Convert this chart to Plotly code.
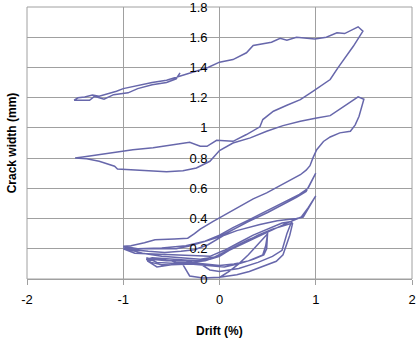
import plotly.graph_objects as go

# ---- data (drift %, crack width mm), traced in time order ----
small_drift = [0.0, 0.1, 0.2, 0.3, 0.4, 0.5,
               0.48, 0.45, 0.3, 0.15, 0.0, -0.15, -0.3, -0.45, -0.6, -0.71, -0.76,
               -0.7, -0.55, -0.4, -0.25, -0.1, 0.0, 0.15, 0.3, 0.5,
               0.49, 0.46, 0.35, 0.2, 0.05, -0.1, -0.3, -0.5, -0.65, -0.75,
               -0.65, -0.5, -0.38, -0.31, -0.17, 0.0, 0.18, 0.31, 0.45, 0.59, 0.66, 0.73, 0.76,
               0.7, 0.55, 0.4, 0.25, 0.1, 0.0, -0.15, -0.3, -0.5, -0.65, -0.76,
               -0.7, -0.55, -0.35, -0.2, -0.1, 0.0, 0.2, 0.4, 0.55, 0.65, 0.7, 0.75]
small_crack = [0.01, 0.05, 0.10, 0.16, 0.23, 0.30,
               0.22, 0.16, 0.12, 0.10, 0.09, 0.10, 0.11, 0.11, 0.095, 0.11, 0.13,
               0.14, 0.135, 0.125, 0.12, 0.13, 0.16, 0.21, 0.26, 0.31,
               0.20, 0.16, 0.13, 0.10, 0.08, 0.09, 0.10, 0.095, 0.08, 0.12,
               0.13, 0.12, 0.095, 0.02, 0.007, 0.011, 0.028, 0.05, 0.083, 0.117, 0.16, 0.29, 0.37,
               0.36, 0.33, 0.29, 0.24, 0.19, 0.15, 0.12, 0.11, 0.105, 0.11, 0.14,
               0.13, 0.12, 0.12, 0.10, 0.06, 0.05, 0.07, 0.11, 0.15, 0.19, 0.30, 0.38]

one_drift = [0.65, 0.5, 0.35, 0.2, 0.05, -0.1, -0.3, -0.57, -0.88, -1.0,
             -0.88, -0.74, -0.57, -0.4, -0.26, -0.12, 0.05, 0.18, 0.42, 0.6, 0.8, 0.87, 1.0,
             0.92, 0.85, 0.7, 0.5, 0.3, 0.1, 0.0, -0.2, -0.4, -0.6, -0.8, -1.0,
             -0.9, -0.7, -0.45, -0.3, -0.15, 0.0, 0.14, 0.3, 0.49, 0.65, 0.83, 0.92, 1.0,
             0.9, 0.8, 0.65, 0.5, 0.3, 0.15, 0.0, -0.15, -0.35, -0.6, -0.85, -1.0]
one_crack = [0.37, 0.33, 0.29, 0.24, 0.19, 0.15, 0.155, 0.16, 0.17, 0.20,
             0.19, 0.183, 0.176, 0.183, 0.194, 0.227, 0.29, 0.32, 0.36, 0.385, 0.40, 0.41, 0.55,
             0.47, 0.41, 0.37, 0.31, 0.25, 0.19, 0.15, 0.13, 0.14, 0.15, 0.17, 0.205,
             0.20, 0.20, 0.20, 0.22, 0.25, 0.29, 0.34, 0.39, 0.45, 0.50, 0.56, 0.60, 0.70,
             0.58, 0.54, 0.49, 0.44, 0.38, 0.33, 0.28, 0.25, 0.22, 0.205, 0.20, 0.216]

load15_drift = [-0.92, -0.78, -0.67, -0.47, -0.33, -0.26, -0.2, -0.07, 0.0, 0.14, 0.35, 0.49,
                0.63, 0.73, 0.84, 0.9, 0.94, 0.97, 1.01, 1.08, 1.15, 1.25, 1.36, 1.41, 1.45, 1.5]
load15_crack = [0.22, 0.24, 0.26, 0.265, 0.27, 0.30, 0.33, 0.38, 0.405, 0.46, 0.53, 0.57,
                0.62, 0.655, 0.69, 0.72, 0.75, 0.80, 0.856, 0.91, 0.94, 0.967, 0.978, 1.02, 1.077, 1.19]

unload15_drift = [1.44, 1.32, 1.22, 1.15, 1.01, 0.84, 0.66, 0.49, 0.32, 0.14, 0.0, -0.1, -0.24,
                  -0.38, -0.55, -0.76, -0.97, -1.06, -1.09, -1.14, -1.25, -1.38, -1.45, -1.5]
unload15_crack = [1.205, 1.154, 1.11, 1.081, 1.066, 1.044, 1.015, 0.978, 0.934, 0.90, 0.85, 0.779, 0.735,
                  0.717, 0.709, 0.717, 0.724, 0.728, 0.746, 0.757, 0.779, 0.795, 0.80, 0.80]

reload15_drift = [-1.42, -1.25, -1.04, -0.9, -0.69, -0.48, -0.31, -0.2, -0.13, -0.03, 0.14, 0.28,
                  0.42, 0.45, 0.56, 0.7, 0.84, 0.97, 1.15, 1.23, 1.39, 1.49]
reload15_crack = [0.808, 0.823, 0.845, 0.856, 0.868, 0.889, 0.905, 0.878, 0.878, 0.918, 0.911, 0.956,
                  1.007, 1.055, 1.11, 1.15, 1.187, 1.242, 1.32, 1.397, 1.54, 1.64]

final_drift = [1.44, 1.3, 1.22, 1.11, 0.99, 0.8, 0.7, 0.63, 0.54, 0.35, 0.28, 0.14, 0.0, -0.12,
               -0.25, -0.4, -0.55, -0.7, -0.85, -1.0, -1.07, -1.18, -1.25, -1.32, -1.4, -1.47, -1.51,
               -1.45, -1.35, -1.3, -1.2, -1.1, -1.0, -0.95, -0.85, -0.7, -0.55, -0.45, -0.41]
final_crack = [1.669, 1.624, 1.629, 1.60, 1.589, 1.60, 1.58, 1.593, 1.567, 1.545, 1.497, 1.452, 1.435, 1.40,
               1.375, 1.345, 1.315, 1.30, 1.28, 1.26, 1.242, 1.222, 1.209, 1.218, 1.205, 1.199, 1.183,
               1.183, 1.183, 1.209, 1.19, 1.22, 1.225, 1.232, 1.26, 1.285, 1.30, 1.325, 1.364]

x_ticks = [-2, -1, 0, 1, 2]
x_tick_labels = ["-2", "-1", "0", "1", "2"]
y_ticks = [0, 0.2, 0.4, 0.6, 0.8, 1.0, 1.2, 1.4, 1.6, 1.8]
y_tick_labels = ["0", "0.2", "0.4", "0.6", "0.8", "1", "1.2", "1.4", "1.6", "1.8"]

drift = small_drift + one_drift + load15_drift + unload15_drift + reload15_drift + final_drift
crack = small_crack + one_crack + load15_crack + unload15_crack + reload15_crack + final_crack

LINE = "#6767AB"
GRID = "#A0A0A0"
FONT = "Liberation Sans, Arial, sans-serif"

fig = go.Figure()
fig.add_trace(go.Scatter(x=drift, y=crack, mode="lines",
                         line=dict(color=LINE, width=1.5), showlegend=False,
                         hoverinfo="skip"))

fig.update_layout(
    width=416, height=340,
    margin=dict(l=27, r=4, t=7, b=61, autoexpand=False),
    paper_bgcolor="white", plot_bgcolor="white",
    font=dict(family=FONT, size=13, color="black"),
    xaxis=dict(range=[-2, 2], tickvals=x_ticks, ticktext=x_tick_labels,
               automargin=False, ticklabeloverflow="allow",
               showgrid=True, gridcolor=GRID, gridwidth=1,
               zeroline=False, showline=True, linecolor=GRID, linewidth=1,
               ticks="outside", ticklen=5, tickcolor=GRID,
               ticklabelstandoff=3),
    yaxis=dict(range=[0, 1.8], tickvals=y_ticks, ticktext=y_tick_labels,
               automargin=False, ticklabeloverflow="allow",
               anchor="free", position=0.5,
               showgrid=True, gridcolor=GRID, gridwidth=1,
               zeroline=False, showline=False, ticks="",
               ticklabelstandoff=12),
    shapes=[dict(type="rect", xref="paper", yref="paper", x0=0, x1=1, y0=0, y1=1,
                 line=dict(color=GRID, width=1), layer="below")],
    annotations=[
        dict(text="<b>Crack width (mm)</b>", xref="paper", yref="paper",
             x=-0.038, y=0.5, xanchor="center", yanchor="middle",
             textangle=-90, showarrow=False, font=dict(size=12, family=FONT)),
        dict(text="<b>Drift (%)</b>", xref="paper", yref="paper",
             x=0.5, y=-0.19, xanchor="center", yanchor="middle",
             showarrow=False, font=dict(size=12, family=FONT)),
    ],
)

fig.write_html("out.html", config={"displayModeBar": False, "staticPlot": True},
               post_script="document.body.style.margin='0';document.body.style.overflow='hidden';")
